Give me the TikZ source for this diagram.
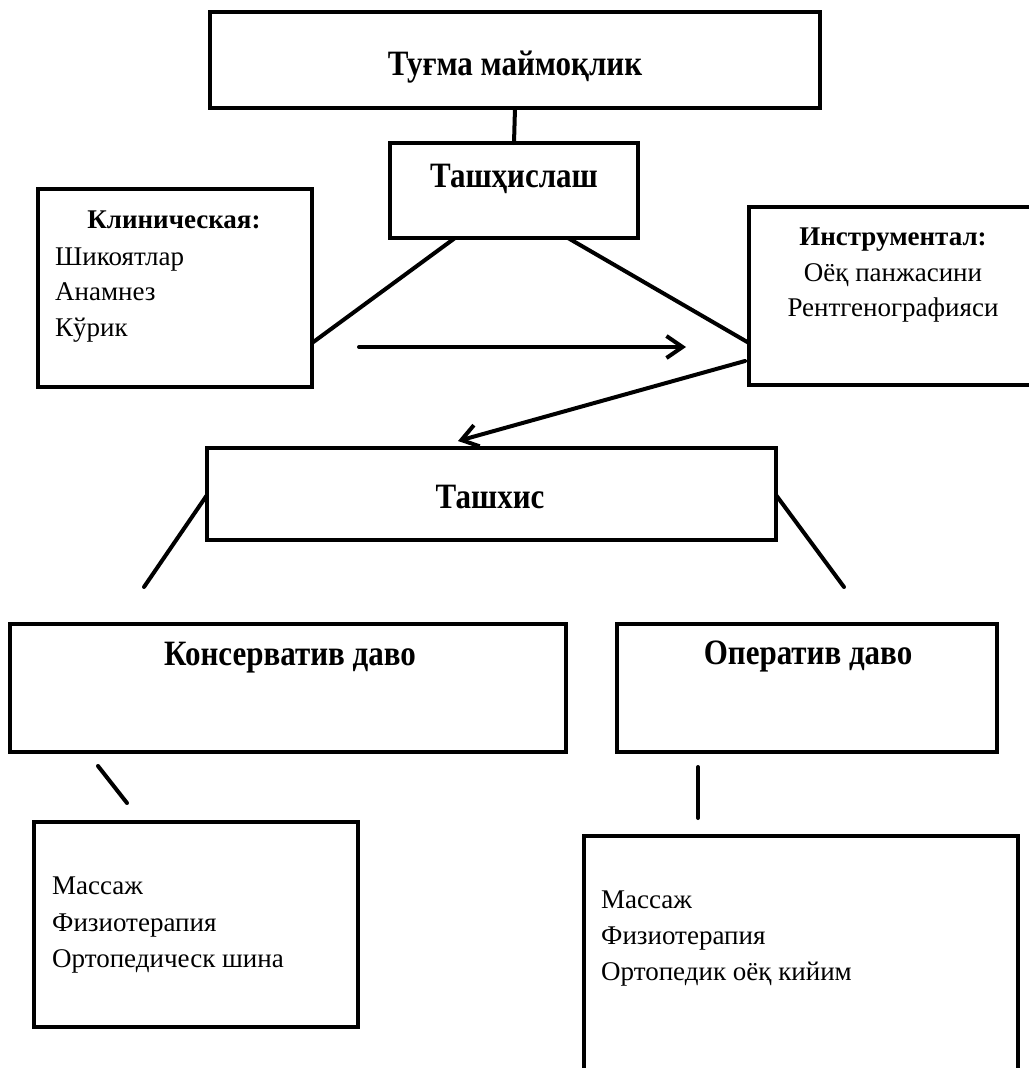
\documentclass[tikz,border=0pt]{standalone}
\usepackage{fontspec}
\usepackage{graphicx}
\setmainfont{Liberation Serif}
\usetikzlibrary{arrows.meta}
\newcommand{\tallt}[1]{\scalebox{1}[1.15]{#1}}
\begin{document}
\begin{tikzpicture}[x=1pt,y=-1pt,
  box/.style={draw=black,line width=4pt,rectangle,inner sep=0pt,outer sep=0pt},
  conn/.style={draw=black,line width=4pt,line cap=round},
  arr/.style={conn,-{Straight Barb[length=16pt,width=22pt,line width=4pt]}},
  ttl/.style={font=\fontsize{31}{37}\selectfont\bfseries,anchor=base,inner sep=0pt},
  sub/.style={font=\fontsize{27}{33}\selectfont\bfseries,anchor=base,inner sep=0pt},
  itm/.style={font=\fontsize{27}{33}\selectfont,anchor=base west,inner sep=0pt},
  itc/.style={font=\fontsize{27}{33}\selectfont,anchor=base,inner sep=0pt}]
\useasboundingbox[fill=white] (0,0) rectangle (1028,1068);

% boxes
\node[box,minimum width=610pt,minimum height=96pt] (top) at (515,60) {};
\node[box,minimum width=248pt,minimum height=95pt] (diag) at (514,190.5) {};
\node[box,minimum width=274pt,minimum height=198pt] (clin) at (175,288) {};
\node[box,minimum width=288pt,minimum height=178pt] (instr) at (893,296) {};
\node[box,minimum width=569pt,minimum height=92pt] (dx) at (491.5,494) {};
\node[box,minimum width=556pt,minimum height=128pt] (cons) at (288,688) {};
\node[box,minimum width=380pt,minimum height=128pt] (oper) at (807,688) {};
\node[box,minimum width=324pt,minimum height=205pt] (bl) at (196,924.5) {};
\node[box,minimum width=434pt,minimum height=248pt] (br) at (801,960) {};

% texts
\node[ttl] (topT) at (515,75) {\tallt{Туғма маймоқлик}};
\node[ttl] (diagT) at (514,187) {\tallt{Ташҳислаш}};
\node[sub] (clinT) at (174,228) {Клиническая:};
\node[itm] (clin1) at (55,265) {Шикоятлар};
\node[itm] (clin2) at (55,300) {Анамнез};
\node[itm] (clin3) at (55,336) {Кўрик};
\node[sub] (instrT) at (893,245) {Инструментал:};
\node[itc] (instr1) at (893,281) {Оёқ панжасини};
\node[itc] (instr2) at (893,316) {Рентгенографияси};
\node[ttl] (dxT) at (490,508) {\tallt{Ташхис}};
\node[ttl] (consT) at (290,665) {\tallt{Консерватив даво}};
\node[ttl] (operT) at (808,664) {\tallt{Оператив даво}};
\node[itm] (bl1) at (52,894) {Массаж};
\node[itm] (bl2) at (52,931) {Физиотерапия};
\node[itm] (bl3) at (52,967) {Ортопедическ шина};
\node[itm] (br1) at (601,908) {Массаж};
\node[itm] (br2) at (601,944) {Физиотерапия};
\node[itm] (br3) at (601,980) {Ортопедик оёқ кийим};

% connector end points
\coordinate (dL) at (455,238);
\coordinate (dR) at (568,238);
\coordinate (cE) at (312,343);
\coordinate (iW) at (749,343);
\coordinate (a1s) at (359,347);
\coordinate (a1e) at (686,347);
\coordinate (a2s) at (745,361);
\coordinate (a2e) at (458,441);
\coordinate (xL) at (207,495);
\coordinate (xLe) at (144,587);
\coordinate (xR) at (776,495);
\coordinate (xRe) at (844,587);
\coordinate (sL1) at (98,766);
\coordinate (sL2) at (127,803);
\coordinate (sR1) at (698,767);
\coordinate (sR2) at (698,818);

% connectors
\draw[conn] (top.south) -- (diag.north);
\draw[conn] (dL) -- (cE);
\draw[conn] (dR) -- (iW);
\draw[arr] (a1s) -- (a1e);
\draw[arr] (a2s) -- (a2e);
\draw[conn] (xL) -- (xLe);
\draw[conn] (xR) -- (xRe);
\draw[conn] (sL1) -- (sL2);
\draw[conn] (sR1) -- (sR2);
\end{tikzpicture}
\end{document}
